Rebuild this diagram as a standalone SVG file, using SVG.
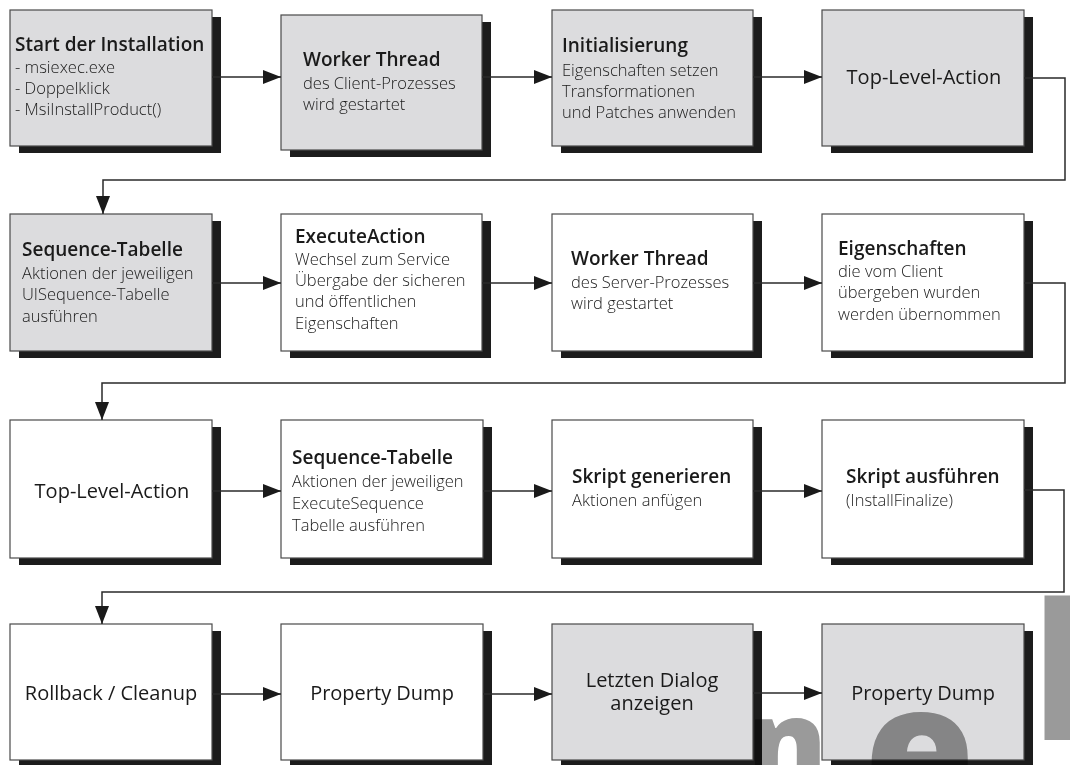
<svg xmlns="http://www.w3.org/2000/svg" width="1070" height="765" viewBox="0 0 1070 765">
  <defs>
    <style>
      .box { stroke: #4a4a4a; stroke-width: 1.2; }
      .grey { fill: #dcdcde; }
      .white { fill: #ffffff; }
      .shadow { fill: #1c1c1c; }
      .t { font-family: "Open Sans", "Liberation Sans", sans-serif; fill: #1a1a1a; }
      .title { font-size: 19px; font-weight: 600; }
      .body { font-size: 16.5px; font-weight: 300; }
      .label { font-size: 20px; text-anchor: middle; }
      .conn { fill: none; stroke: #2a2a2a; stroke-width: 1.5; marker-end: url(#arrow); }
      .mark { font-family: "Open Sans", "Liberation Sans", sans-serif; font-weight: 800; fill: #9a9a9a; mix-blend-mode: multiply; }
    </style>
    <marker id="arrow" markerUnits="userSpaceOnUse" markerWidth="18" markerHeight="14" viewBox="0 0 18 14" refX="18" refY="7" orient="auto">
      <path d="M0,0 L18,7 L0,14 z" fill="#1a1a1a"/>
    </marker>
  </defs>

  <!-- row 1 -->
  <g id="start">
    <rect class="shadow" x="19" y="17" width="202" height="136"/>
    <rect class="box grey" x="10" y="10" width="202" height="136"/>
    <text class="t title" x="15" y="51">Start der Installation</text>
    <text class="t body" x="15" y="73">- msiexec.exe</text>
    <text class="t body" x="15" y="94">- Doppelklick</text>
    <text class="t body" x="15" y="115">- MsiInstallProduct()</text>
  </g>
  <g id="worker-client">
    <rect class="shadow" x="290" y="22" width="201" height="135"/>
    <rect class="box grey" x="281" y="15" width="201" height="135"/>
    <text class="t title" x="303" y="66">Worker Thread</text>
    <text class="t body" x="303" y="89">des Client-Prozesses</text>
    <text class="t body" x="303" y="110">wird gestartet</text>
  </g>
  <g id="init">
    <rect class="shadow" x="561" y="17" width="201" height="136"/>
    <rect class="box grey" x="552" y="10" width="201" height="136"/>
    <text class="t title" x="562" y="52">Initialisierung</text>
    <text class="t body" x="562" y="76">Eigenschaften setzen</text>
    <text class="t body" x="562" y="97">Transformationen</text>
    <text class="t body" x="562" y="118">und Patches anwenden</text>
  </g>
  <g id="toplevel-client">
    <rect class="shadow" x="831" y="17" width="202" height="136"/>
    <rect class="box grey" x="822" y="10" width="202" height="136"/>
    <text class="t label" x="924" y="84">Top-Level-Action</text>
  </g>

  <!-- row 2 -->
  <g id="uisequence">
    <rect class="shadow" x="19" y="221" width="202" height="137"/>
    <rect class="box grey" x="10" y="214" width="202" height="137"/>
    <text class="t title" x="22" y="256">Sequence-Tabelle</text>
    <text class="t body" x="22" y="279">Aktionen der jeweiligen</text>
    <text class="t body" x="22" y="300">UISequence-Tabelle</text>
    <text class="t body" x="22" y="322">ausführen</text>
  </g>
  <g id="executeaction">
    <rect class="shadow" x="290" y="221" width="201" height="137"/>
    <rect class="box white" x="281" y="214" width="201" height="137"/>
    <text class="t title" x="295" y="243">ExecuteAction</text>
    <text class="t body" x="295" y="265">Wechsel zum Service</text>
    <text class="t body" x="295" y="286">Übergabe der sicheren</text>
    <text class="t body" x="295" y="307">und öffentlichen</text>
    <text class="t body" x="295" y="329">Eigenschaften</text>
  </g>
  <g id="worker-server">
    <rect class="shadow" x="561" y="221" width="201" height="137"/>
    <rect class="box white" x="552" y="214" width="201" height="137"/>
    <text class="t title" x="571" y="265">Worker Thread</text>
    <text class="t body" x="571" y="288">des Server-Prozesses</text>
    <text class="t body" x="571" y="309">wird gestartet</text>
  </g>
  <g id="properties">
    <rect class="shadow" x="831" y="221" width="202" height="137"/>
    <rect class="box white" x="822" y="214" width="202" height="137"/>
    <text class="t title" x="838" y="255">Eigenschaften</text>
    <text class="t body" x="838" y="277">die vom Client</text>
    <text class="t body" x="838" y="298">übergeben wurden</text>
    <text class="t body" x="838" y="320">werden übernommen</text>
  </g>

  <!-- row 3 -->
  <g id="toplevel-server">
    <rect class="shadow" x="19" y="427" width="202" height="138"/>
    <rect class="box white" x="10" y="420" width="202" height="138"/>
    <text class="t label" x="112" y="498">Top-Level-Action</text>
  </g>
  <g id="executesequence">
    <rect class="shadow" x="290" y="427" width="202" height="138"/>
    <rect class="box white" x="281" y="420" width="202" height="138"/>
    <text class="t title" x="292" y="464">Sequence-Tabelle</text>
    <text class="t body" x="292" y="487">Aktionen der jeweiligen</text>
    <text class="t body" x="292" y="509">ExecuteSequence</text>
    <text class="t body" x="292" y="531">Tabelle ausführen</text>
  </g>
  <g id="script-generate">
    <rect class="shadow" x="561" y="427" width="201" height="138"/>
    <rect class="box white" x="552" y="420" width="201" height="138"/>
    <text class="t title" x="572" y="483">Skript generieren</text>
    <text class="t body" x="572" y="506">Aktionen anfügen</text>
  </g>
  <g id="script-run">
    <rect class="shadow" x="831" y="427" width="202" height="138"/>
    <rect class="box white" x="822" y="420" width="202" height="138"/>
    <text class="t title" x="846" y="483">Skript ausführen</text>
    <text class="t body" x="846" y="506">(InstallFinalize)</text>
  </g>

  <!-- row 4 -->
  <g id="rollback">
    <rect class="shadow" x="19" y="631" width="202" height="136"/>
    <rect class="box white" x="10" y="624" width="202" height="136"/>
    <text class="t label" x="111" y="700">Rollback / Cleanup</text>
  </g>
  <g id="dump-server">
    <rect class="shadow" x="290" y="631" width="202" height="136"/>
    <rect class="box white" x="281" y="624" width="202" height="136"/>
    <text class="t label" x="382" y="700">Property Dump</text>
  </g>
  <g id="last-dialog">
    <rect class="shadow" x="561" y="631" width="201" height="136"/>
    <rect class="box grey" x="552" y="624" width="201" height="136"/>
    <text class="t label" x="652" y="687">Letzten Dialog</text>
    <text class="t label" x="652" y="710">anzeigen</text>
  </g>
  <g id="dump-client">
    <rect class="shadow" x="831" y="631" width="202" height="136"/>
    <rect class="box grey" x="822" y="624" width="202" height="136"/>
    <text class="t label" x="923" y="700">Property Dump</text>
  </g>

  <!-- connectors -->
  <g id="connectors">
    <path class="conn" d="M212,77 H281"/>
    <path class="conn" d="M482,77 H552"/>
    <path class="conn" d="M753,77 H822"/>
    <path class="conn" d="M1024,78 H1065 V180 H103 V214"/>
    <path class="conn" d="M212,283 H281"/>
    <path class="conn" d="M482,283 H552"/>
    <path class="conn" d="M753,283 H822"/>
    <path class="conn" d="M1024,283 H1065 V383 H102 V420"/>
    <path class="conn" d="M212,491 H281"/>
    <path class="conn" d="M483,491 H552"/>
    <path class="conn" d="M753,491 H822"/>
    <path class="conn" d="M1024,490 H1064 V592 H102 V624"/>
    <path class="conn" d="M212,694 H281"/>
    <path class="conn" d="M483,694 H552"/>
    <path class="conn" d="M753,693 H822"/>
  </g>

  <!-- faint publisher mark in the lower right corner -->
  <g id="mark">
    <text class="mark" x="747" y="786" font-size="120">n</text>
    <text class="mark" x="864" y="813" font-size="180">e</text>
    <text class="mark" x="1032" y="740" font-size="190">l</text>
  </g>
</svg>
